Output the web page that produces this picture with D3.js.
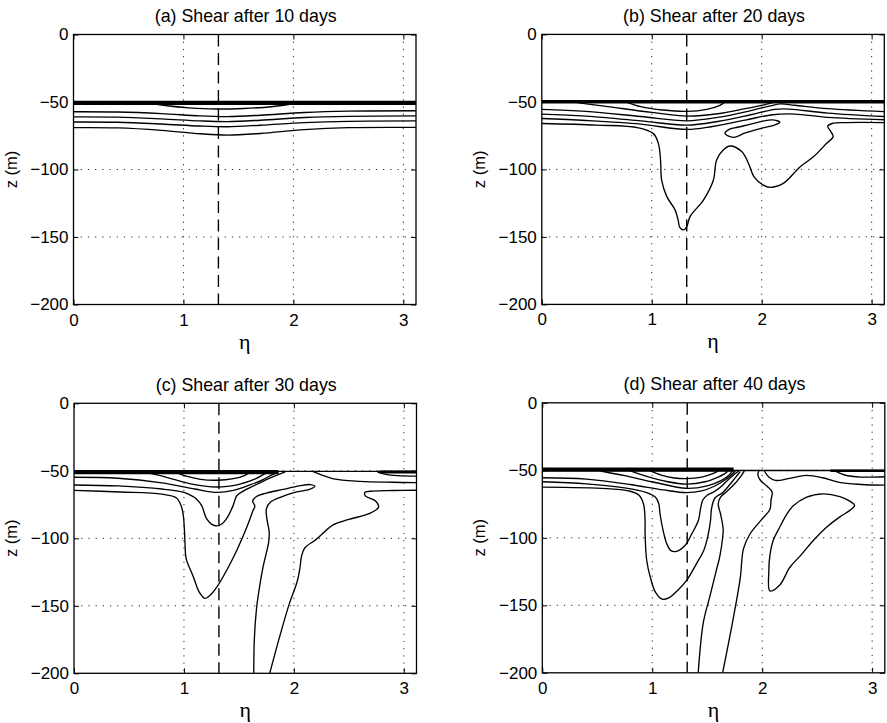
<!DOCTYPE html>
<html><head><meta charset="utf-8">
<script src="https://cdn.jsdelivr.net/npm/d3@7"></script>
<style>body{margin:0;background:#fff}svg{display:block}</style>
</head><body>
<svg id="c" width="887" height="723"></svg>
<script>
// ---------------- data ----------------
const etaTicks = [0, 1, 2, 3];
const zTicks = [0, -50, -100, -150, -200];
const etaDomain = [0, 3.115];
const zDomain = [-200, 0];
const dashedEta = 1.318;
const titles = ["(a) Shear after 10 days", "(b) Shear after 20 days", "(c) Shear after 30 days", "(d) Shear after 40 days"];
const xLabel = "η";
const yLabel = "z (m)";

// Panel (a): 10 days  [eta, z]
const a_band = [[0, -50.6], [3.115, -50.6]];
const a_lens = [[0.74, -51.5], [0.85, -52.8], [1.05, -54.3], [1.3, -55.2], [1.55, -54.8], [1.8, -53.5], [1.98, -51.5]];
const a_c1 = [[0, -57.2], [0.4, -57.4], [0.8, -58.6], [1.15, -60.3], [1.4, -60.8], [1.7, -59.8], [2.1, -57.8], [2.5, -56.8], [3.115, -56.5]];
const a_c2 = [[0, -61], [0.4, -61.2], [0.8, -62.5], [1.15, -64], [1.4, -64.5], [1.7, -63.5], [2.1, -61.5], [2.5, -60.6], [3.115, -60.3]];
const a_c3 = [[0, -64.8], [0.4, -65], [0.8, -66.3], [1.15, -67.8], [1.4, -68.3], [1.7, -67.2], [2.1, -65.3], [2.5, -64.3], [3.115, -64]];
const a_c4 = [[0, -69], [0.4, -69.2], [0.8, -71], [1.15, -73.5], [1.4, -74.5], [1.7, -73.3], [2.1, -70.5], [2.5, -69], [3.115, -68.8]];

// Panel (b): 20 days
const b_band = [[0, -49.9], [3.115, -49.9]];
const b_lens = [[0.78, -50.5], [0.9, -53.5], [1.1, -56], [1.32, -57], [1.5, -55.5], [1.62, -52.5], [1.66, -50.5]];
const b_c0 = [[0.32, -50.5], [0.6, -53.5], [1.0, -57.8], [1.32, -60.5], [1.6, -58.8], [1.85, -55], [2.02, -52.2], [2.1, -50.5]];
const b_c1 = [[0, -55.5], [0.4, -57], [0.9, -60.8], [1.32, -64], [1.6, -61.5], [1.9, -56.5], [2.08, -53], [2.17, -51.5], [2.3, -52.5], [2.6, -55], [3.115, -57.2]];
const b_c2 = [[0, -59], [0.4, -60.5], [0.9, -64], [1.32, -67.2], [1.6, -64.5], [1.9, -59.5], [2.12, -55.5], [2.25, -55.3], [2.6, -58.3], [3.115, -60.8]];
const b_c3 = [[0, -62.3], [0.4, -63.8], [0.9, -66.5], [1.32, -70.4], [1.55, -68.2], [1.85, -63.5], [2.1, -59.5], [2.3, -59], [2.6, -61.5], [3.115, -63.2]];
const b_deep = [[0, -66], [0.5, -67.2], [0.88, -69.2], [1.015, -73.5], [1.06, -80.7], [1.08, -93], [1.09, -108], [1.136, -120], [1.212, -130], [1.24, -137.6], [1.255, -143], [1.287, -144.8], [1.318, -142.5], [1.348, -135], [1.47, -122.7], [1.56, -108], [1.59, -93], [1.65, -85.7], [1.712, -82.7], [1.82, -87], [1.88, -95.6], [1.93, -105.5], [2.015, -111.6], [2.075, -113.3], [2.196, -110.4], [2.35, -98], [2.47, -90.7], [2.59, -80.7], [2.65, -75.8], [2.62, -70.9], [2.6, -68], [2.64, -66], [2.77, -65.3], [3.115, -65.3]];
const b_oval = [[1.666, -73.4], [1.7, -70.5], [1.78, -68.8], [1.9, -66.5], [2.02, -64], [2.1, -63.3], [2.165, -65], [2.12, -67], [2.0, -69.5], [1.85, -73], [1.74, -76.3]];

// Panel (c): 30 days
const c_bandL = [[0, -51], [1.86, -51]];
const c_line50 = [[0, -50.4], [3.115, -50.4]];
const c_bandR = [[2.78, -50.8], [3.115, -50.8]];
const c_L1 = [[0.92, -51], [1.02, -54], [1.15, -56.3], [1.3, -57], [1.45, -55.8], [1.55, -53.5], [1.6, -51]];
const c_L2 = [[0.65, -51], [0.85, -55], [1.05, -59.5], [1.3, -62], [1.5, -60], [1.65, -56], [1.73, -52.5], [1.78, -51]];
const c_P = [[0, -54.8], [0.4, -55.5], [0.8, -59], [1.1, -63.5], [1.3, -66], [1.45, -64.5], [1.6, -60.5], [1.72, -56.5], [1.8, -53], [1.86, -51]];
const c_V = [[0, -60.5], [0.4, -61.2], [0.8, -63.5], [1.0, -66], [1.08, -69], [1.115, -71], [1.16, -75.6], [1.206, -85.5], [1.25, -89.5], [1.3, -90.8], [1.35, -89], [1.388, -85.5], [1.448, -75.6], [1.48, -68.5], [1.54, -65], [1.6, -62.5], [1.7, -58.5], [1.78, -55.5], [1.87, -52.5], [1.92, -51]];
const c_U = [[0, -64.5], [0.42, -65.7], [0.8, -67.3], [0.93, -70], [0.975, -76], [0.994, -83], [1.005, -95], [1.01, -105], [1.02, -115], [1.085, -128.4], [1.14, -140], [1.19, -144.5], [1.24, -142], [1.3, -136], [1.39, -123.5], [1.48, -109], [1.54, -98], [1.59, -88], [1.625, -80], [1.645, -76], [1.625, -72.5], [1.66, -69], [1.75, -66.5], [1.9, -63.8], [2.05, -61.2], [2.15, -60.2], [2.19, -61.5], [2.14, -63.8], [2.0, -66.2], [1.87, -69.8], [1.79, -73], [1.75, -78], [1.755, -86], [1.775, -95], [1.77, -103], [1.72, -121], [1.68, -140], [1.66, -152], [1.64, -175], [1.635, -200]];
const c_B = [[1.78, -200], [1.87, -173], [1.96, -148], [2.03, -132], [2.055, -122], [2.07, -113], [2.1, -107], [2.2, -101], [2.357, -90], [2.5, -86], [2.69, -81.5], [2.77, -77], [2.745, -72.5], [2.65, -68.5], [2.645, -66], [2.72, -65], [2.9, -64.6], [3.115, -64.4]];
const c_R1 = [[2.17, -50.5], [2.25, -53], [2.36, -56], [2.6, -57.8], [2.9, -58.5], [3.115, -58.8]];
const c_R2 = [[2.76, -51], [2.86, -53], [3.0, -53.8], [3.115, -54]];

// Panel (d): 40 days
const d_bandL = [[0, -49.5], [1.74, -49.5]];
const d_line50 = [[0, -50.2], [3.115, -50.2]];
const d_bandR = [[2.62, -50.3], [3.115, -50.3]];
const d_L1 = [[0.98, -50.5], [1.08, -53.5], [1.2, -55.7], [1.313, -56.2], [1.45, -55], [1.55, -52.5], [1.6, -50.5]];
const d_L2 = [[0.8, -50.5], [0.95, -54.5], [1.13, -58.3], [1.313, -60.2], [1.48, -58.5], [1.6, -55], [1.66, -52.5], [1.69, -50.5]];
const d_L3 = [[0.53, -50.5], [0.75, -54], [1.0, -58.5], [1.313, -63.4], [1.5, -61.5], [1.63, -57.5], [1.7, -53.5], [1.73, -50.5]];
const d_G = [[0, -55.5], [0.4, -56.5], [0.8, -60.5], [1.1, -64.5], [1.313, -66.5], [1.45, -65.2], [1.56, -62], [1.64, -58.3], [1.71, -54.2], [1.755, -50.5]];
const d_V = [[0, -58.5], [0.4, -60], [0.75, -63], [0.95, -66.5], [1.03, -70], [1.06, -75], [1.07, -82], [1.1, -95], [1.13, -104], [1.17, -109.5], [1.22, -110], [1.3, -105.5], [1.36, -97], [1.42, -87], [1.44, -78], [1.46, -72], [1.5, -68.5], [1.56, -66], [1.63, -61.8], [1.69, -57], [1.75, -52.8], [1.785, -50.5]];
const d_U = [[0, -62.5], [0.585, -63.6], [0.8, -65.5], [0.88, -68.5], [0.92, -74.8], [0.934, -85], [0.935, -97], [0.95, -117], [0.985, -130], [1.03, -140.5], [1.09, -145.5], [1.15, -144.5], [1.23, -139], [1.313, -131.5], [1.4, -119.5], [1.47, -109], [1.51, -97], [1.53, -87], [1.54, -78], [1.57, -70.5], [1.645, -66.2], [1.706, -60.5], [1.76, -55], [1.8, -51]];
const d_C = [[1.418, -200], [1.464, -163], [1.525, -143], [1.58, -125], [1.615, -113.5], [1.64, -100], [1.645, -93.7], [1.62, -82], [1.6, -75], [1.62, -70], [1.68, -65.5], [1.75, -60], [1.8, -55], [1.83, -51.5], [1.84, -50]];
const d_D = [[1.64, -200], [1.736, -160], [1.8, -130], [1.83, -108], [1.89, -97], [2.0, -86], [2.07, -79], [2.08, -72], [2.09, -66], [2.04, -61.5], [1.98, -57], [1.96, -53], [1.97, -50.5]];
const d_F = [[2.02, -50.5], [2.06, -55], [2.12, -57.5], [2.25, -56], [2.4, -53.8], [2.55, -55.5], [2.7, -59], [2.9, -60.5], [3.115, -61]];
const d_E = [[2.07, -139.3], [2.06, -125], [2.07, -113], [2.1, -102], [2.16, -92], [2.22, -83], [2.28, -76.5], [2.4, -70], [2.555, -67.5], [2.706, -69.5], [2.8, -73], [2.84, -76], [2.8, -79.5], [2.706, -84.5], [2.585, -92.2], [2.465, -102], [2.35, -113], [2.25, -122], [2.16, -135]];
const d_R2 = [[2.66, -50.5], [2.75, -53.5], [2.9, -55], [3.115, -54.8]];

// ---------------- layout / drawing ----------------
const panels = [
  {left: 73.5, top: 34.5, title: titles[0], open: [a_lens, a_c1, a_c2, a_c3, a_c4], closed: [], bands: [[a_band, 4.2]], thin: []},
  {left: 541.8, top: 34.4, title: titles[1], open: [b_lens, b_c0, b_c1, b_c2, b_c3, b_deep], closed: [b_oval], bands: [[b_band, 3.6]], thin: []},
  {left: 74, top: 403.3, title: titles[2], open: [c_L1, c_L2, c_P, c_V, c_U, c_B, c_R1, c_R2], closed: [], bands: [[c_bandL, 4.2], [c_bandR, 3]], thin: [c_line50]},
  {left: 542.3, top: 402.8, title: titles[3], open: [d_L1, d_L2, d_L3, d_G, d_V, d_U, d_C, d_D, d_F, d_R2], closed: [d_E], bands: [[d_bandL, 4.2], [d_bandR, 2.6]], thin: [d_line50]}
];
const W = 342.5, H = 270;
const svg = d3.select("#c");
const sans = "'Liberation Sans', Arial, Helvetica, sans-serif";
const fmt = d => d < 0 ? "\u2212" + Math.abs(d) : String(d);

panels.forEach((p, i) => {
  const x = d3.scaleLinear().domain(etaDomain).range([0, W]);
  const y = d3.scaleLinear().domain(zDomain).range([H, 0]);
  const g = svg.append("g").attr("transform", `translate(${p.left},${p.top})`);
  const clipId = "clip" + i;
  g.append("clipPath").attr("id", clipId).append("rect").attr("width", W).attr("height", H);

  // grid
  const grid = g.append("g").attr("stroke", "#222").attr("stroke-width", 1).attr("stroke-dasharray", "1.2,6");
  etaTicks.filter(t => t > 0).forEach(t => grid.append("line").attr("x1", x(t)).attr("x2", x(t)).attr("y1", 0).attr("y2", H));
  zTicks.filter(t => t < 0 && t > -200).forEach(t => grid.append("line").attr("x1", 0).attr("x2", W).attr("y1", y(t)).attr("y2", y(t)));

  const body = g.append("g").attr("clip-path", `url(#${clipId})`);
  const ln = d3.line().x(d => x(d[0])).y(d => y(d[1])).curve(d3.curveCatmullRom.alpha(0.5));
  const lnC = d3.line().x(d => x(d[0])).y(d => y(d[1])).curve(d3.curveCatmullRomClosed.alpha(0.5));
  const lnS = d3.line().x(d => x(d[0])).y(d => y(d[1]));

  // dashed vertical line
  body.append("line").attr("x1", x(dashedEta)).attr("x2", x(dashedEta)).attr("y1", 0).attr("y2", H)
    .attr("stroke", "#000").attr("stroke-width", 1.4).attr("stroke-dasharray", "12,6.5");

  p.thin.forEach(d => body.append("path").attr("d", lnS(d)).attr("fill", "none").attr("stroke", "#000").attr("stroke-width", 1.4));
  p.bands.forEach(([d, w]) => body.append("path").attr("d", lnS(d)).attr("fill", "none").attr("stroke", "#000").attr("stroke-width", w));
  p.open.forEach(d => body.append("path").attr("d", ln(d)).attr("fill", "none").attr("stroke", "#000").attr("stroke-width", 1.35).attr("stroke-linejoin", "round"));
  p.closed.forEach(d => body.append("path").attr("d", lnC(d)).attr("fill", "none").attr("stroke", "#000").attr("stroke-width", 1.35));

  // axes (inward ticks, mirrored)
  const ax = g.append("g").attr("font-family", sans);
  ax.append("g").attr("transform", `translate(0,${H})`)
    .call(d3.axisBottom(x).tickValues(etaTicks).tickSize(-5).tickSizeOuter(0).tickPadding(9).tickFormat(fmt));
  ax.append("g").call(d3.axisLeft(y).tickValues(zTicks).tickSize(-5).tickSizeOuter(0).tickPadding(5).tickFormat(fmt));
  ax.append("g").call(d3.axisTop(x).tickValues(etaTicks).tickSize(-5).tickSizeOuter(0).tickFormat(""));
  ax.append("g").attr("transform", `translate(${W},0)`).call(d3.axisRight(y).tickValues(zTicks).tickSize(-5).tickSizeOuter(0).tickFormat(""));
  ax.selectAll(".domain").remove();
  ax.selectAll("text").attr("font-size", 17).attr("fill", "#000");
  ax.selectAll("line").attr("stroke", "#000");

  g.append("rect").attr("width", W).attr("height", H).attr("fill", "none").attr("stroke", "#000").attr("stroke-width", 1.3);

  // labels
  g.append("text").attr("x", W / 2 + 1).attr("y", -12.5).attr("text-anchor", "middle")
    .attr("font-family", sans).attr("font-size", 17.8).text(p.title);
  g.append("text").attr("x", W / 2).attr("y", H + 44).attr("text-anchor", "middle")
    .attr("font-family", "'Liberation Serif', 'Times New Roman', serif").attr("font-size", 22).text(xLabel);
  g.append("text").attr("transform", `translate(-57,${H / 2}) rotate(-90)`).attr("text-anchor", "middle")
    .attr("font-family", sans).attr("font-size", 16.5).text(yLabel);
});
</script>
</body></html>
